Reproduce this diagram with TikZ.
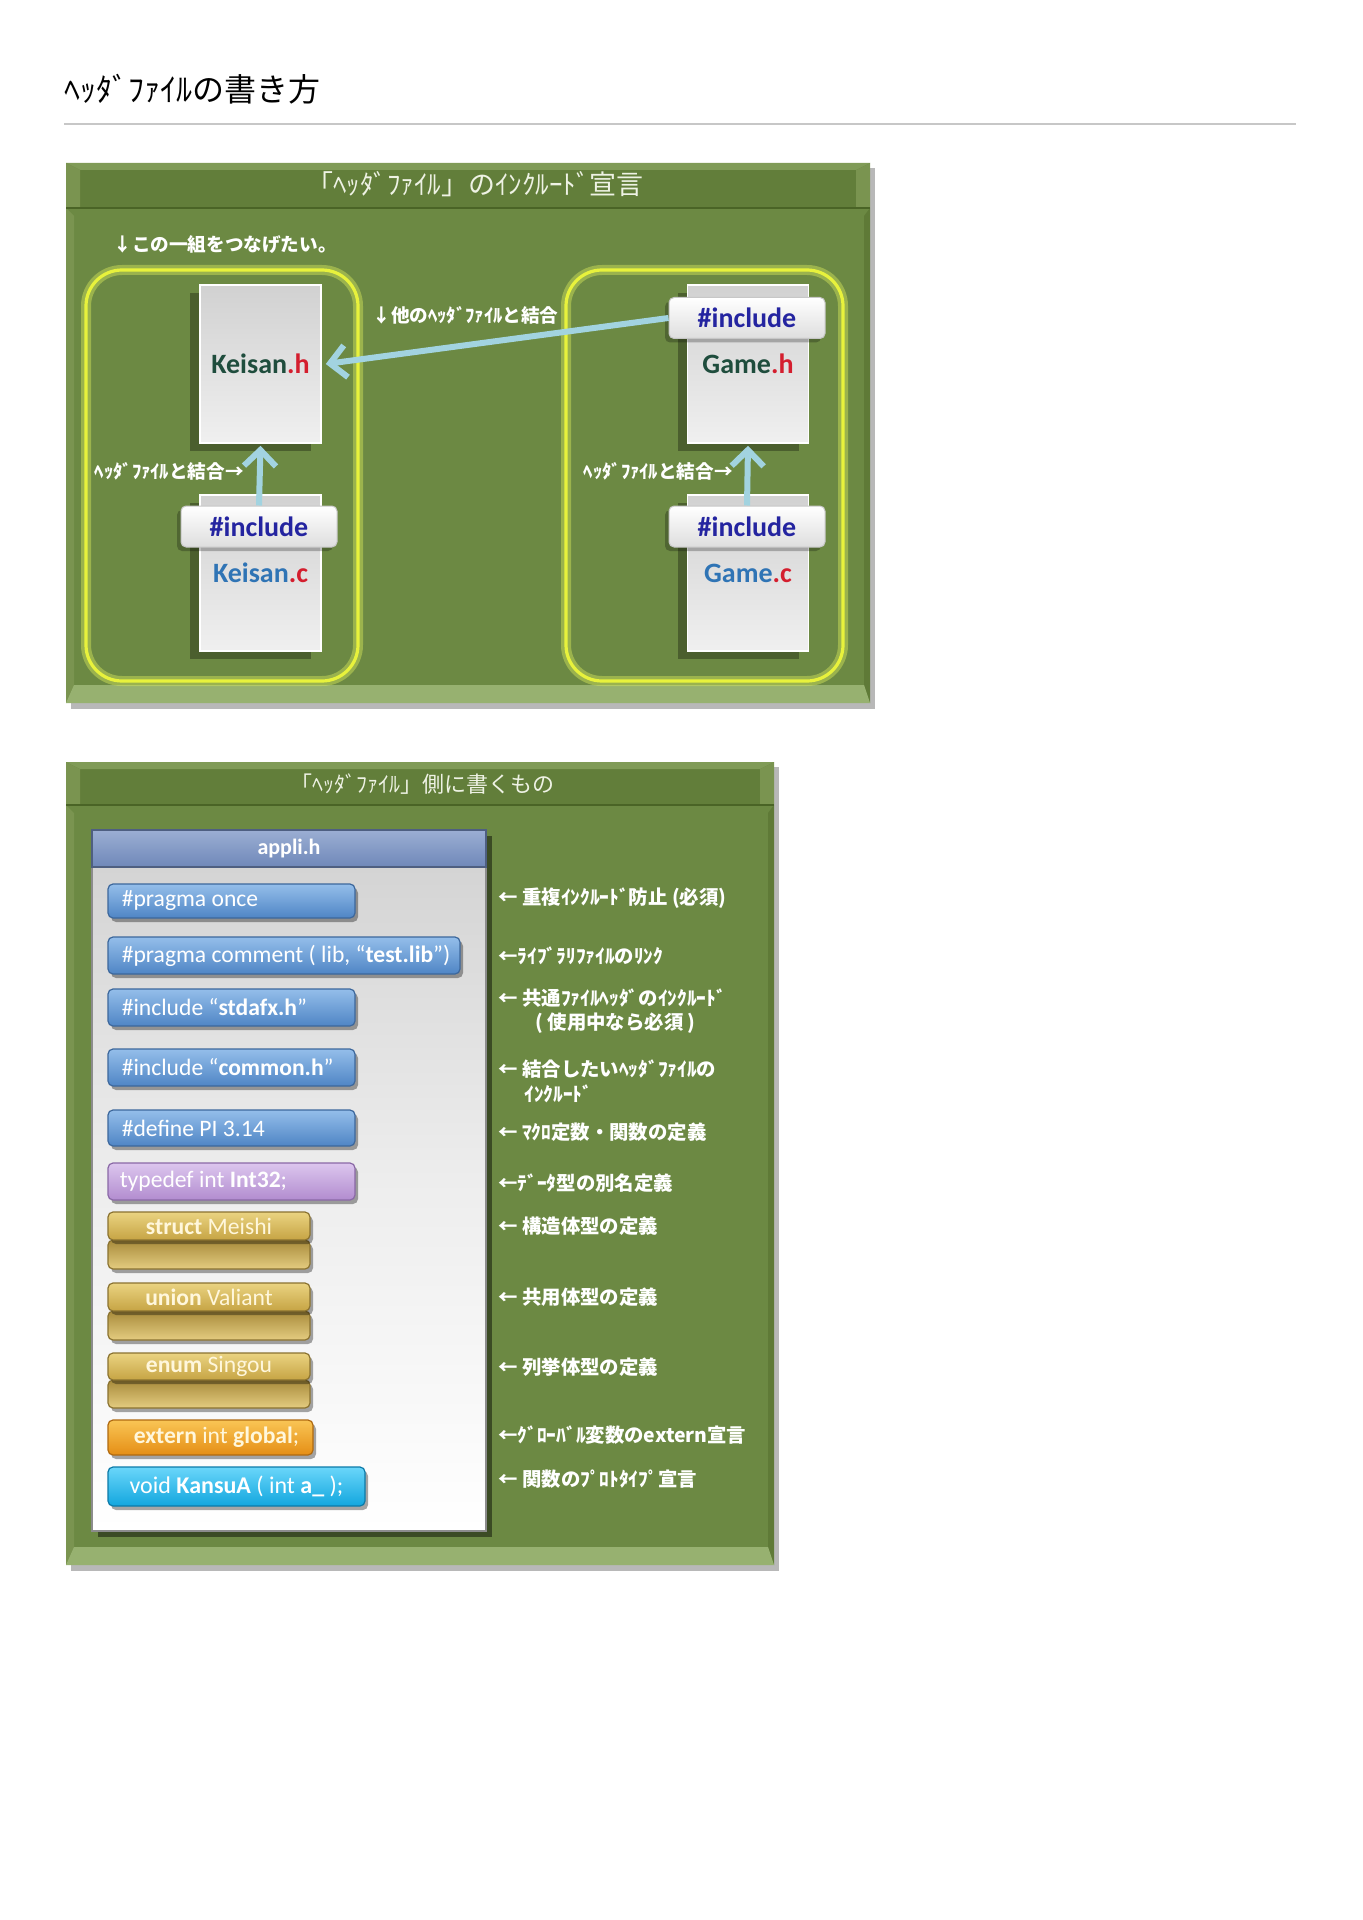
\documentclass[tikz,border=0pt]{standalone}
\usepackage{fontspec}
\setmainfont{Carlito}
\newfontfamily\jp{Noto Sans CJK JP}
\usetikzlibrary{arrows.meta,shadows}
\definecolor{pbody}{HTML}{6C8943}
\definecolor{phead}{HTML}{627E3A}
\definecolor{phl}{HTML}{809B57}
\definecolor{pleft}{HTML}{7A9450}
\definecolor{pright}{HTML}{5F7A37}
\definecolor{pbot}{HTML}{97B170}
\definecolor{pdark}{HTML}{4A6426}
\definecolor{ytop}{HTML}{E8F23C}
\definecolor{yglowc}{HTML}{D6E85A}
\definecolor{arr}{HTML}{A2D3E0}
\definecolor{incblue}{HTML}{2424A0}
\definecolor{kgreen}{HTML}{1F4D3D}
\definecolor{kblue}{HTML}{2F74B5}
\definecolor{hred}{HTML}{D41E2E}
\definecolor{ltext}{HTML}{EEF2E4}
\definecolor{bluet}{HTML}{94BEEA}
\definecolor{blueb}{HTML}{4F85C5}
\definecolor{blued}{HTML}{3C679C}
\definecolor{purt}{HTML}{DCC6EE}
\definecolor{purb}{HTML}{B28CCF}
\definecolor{purd}{HTML}{8A68A6}
\definecolor{goldt}{HTML}{EAD381}
\definecolor{goldb}{HTML}{C6A444}
\definecolor{goldd}{HTML}{8A7230}
\definecolor{gold2t}{HTML}{A88B3B}
\definecolor{gold2b}{HTML}{E4CC80}
\definecolor{orat}{HTML}{F9C555}
\definecolor{orab}{HTML}{E58E15}
\definecolor{orad}{HTML}{B06A10}
\definecolor{cyat}{HTML}{6AD6FA}
\definecolor{cyab}{HTML}{12A6DE}
\definecolor{cyad}{HTML}{0C7AA8}
\definecolor{aphead1}{HTML}{9BAED3}
\definecolor{aphead2}{HTML}{6F88B9}
\definecolor{gtext}{HTML}{FFF7DC}

\newcommand\greenpanel[5]{%
  \fill[black,opacity=.28] ({#1+5},{#2+5}) rectangle ({#3+5},{#4+6});
  \fill[pbody] (#1,#2) rectangle (#3,#4);
  \fill[phead] (#1,#2) rectangle (#3,#5);
  \fill[phl] (#1,#2) -- (#3,#2) -- ({#3-14},{#2+7}) -- ({#1+14},{#2+7}) -- cycle;
  \fill[pleft] (#1,#2) -- ({#1+14},{#2+7}) -- ({#1+14},#5) -- (#1,#5) -- cycle;
  \fill[pleft] (#3,#2) -- ({#3-14},{#2+7}) -- ({#3-14},#5) -- (#3,#5) -- cycle;
  \fill[pleft] (#1,#5) -- ({#1+8},{#5+8}) -- ({#1+8},{#4-18}) -- (#1,#4) -- cycle;
  \fill[pright] (#3,#5) -- ({#3-6},{#5+8}) -- ({#3-6},{#4-18}) -- (#3,#4) -- cycle;
  \fill[pbot] (#1,#4) -- ({#1+8},{#4-18}) -- ({#3-6},{#4-18}) -- (#3,#4) -- cycle;
  \draw[pdark,line width=1.2pt] (#1,#5) -- (#3,#5);
}

\begin{document}
\begin{tikzpicture}[x=0.5pt,y=-0.5pt,
  htext/.style={font=\jp\fontsize{13.5}{16}\selectfont, text=ltext, inner sep=0},
  wlab/.style={font=\jp\bfseries\fontsize{9.3}{11}\selectfont, text=white, inner sep=0},
  rlab/.style={font=\jp\bfseries\fontsize{9.7}{11}\selectfont, text=white, inner sep=0, anchor=west},
  ybox/.style={draw=ytop, line width=1.6pt, rounded corners=18pt,
     preaction={draw=yglowc, line width=5pt, opacity=.45}},
  doc/.style={top color=black!18, bottom color=black!6, draw=white, line width=.8pt,
     minimum width=60.5pt, minimum height=79pt, inner sep=0,
     font=\bfseries\fontsize{14}{16}\selectfont,
     drop shadow={shadow xshift=-5pt, shadow yshift=-4pt, opacity=.3, fill=black}},
  inc/.style={rounded corners=2.5pt, top color=white, bottom color=black!13, draw=black!22,
     line width=.5pt, minimum width=78pt, minimum height=20.5pt, inner sep=0,
     text=incblue, font=\bfseries\fontsize{14}{16}\selectfont,
     drop shadow={shadow xshift=-2pt, shadow yshift=-2pt, opacity=.25, fill=black}},
  conn/.style={draw=arr, line width=3pt, -{Straight Barb[length=8pt,width=16pt]}},
  btn/.style n args={3}{draw=#3, line width=.6pt, rounded corners=2.5pt,
     top color=#1, bottom color=#2, inner sep=0,
     drop shadow={shadow xshift=1.5pt, shadow yshift=-2pt, opacity=.35, fill=black}},
  btext/.style={font=\fontsize{11.8}{13}\selectfont, text=white, inner sep=0},
]
\useasboundingbox (0,0) rectangle (1363,1920);
\fill[white] (0,0) rectangle (1363,1920);

% page title
\node[anchor=west, inner sep=0, font=\jp\fontsize{16}{19}\selectfont] (title) at (64,89) {ﾍｯﾀﾞﾌｧｲﾙの書き方};
\draw[black!22, line width=1pt] (64,124) -- (1296,124);

% ===== panel 1 =====
\greenpanel{66}{163}{870}{703}{208}
\node[htext] (p1title) at (475,184) {「ﾍｯﾀﾞﾌｧｲﾙ」のｲﾝｸﾙｰﾄﾞ宣言};
\node[wlab, anchor=west] (pair) at (113,245) {↓この一組をつなげたい。};

\draw[ybox] (86,270) rectangle (358,681);
\draw[ybox] (566,270) rectangle (843,681);

\node[doc] (kh) at (260.5,364) {\raisebox{-2pt}{\textcolor{kgreen}{Keisan}\textcolor{hred}{.h}}};
\node[doc, minimum height=78pt] (kc) at (260.5,573) {\raisebox{-10pt}{\textcolor{kblue}{Keisan}\textcolor{hred}{.c}}};
\node[doc] (gh) at (748,364) {\raisebox{-2pt}{\textcolor{kgreen}{Game}\textcolor{hred}{.h}}};
\node[doc, minimum height=78pt] (gc) at (748,573) {\raisebox{-10pt}{\textcolor{kblue}{Game}\textcolor{hred}{.c}}};

\node[inc] (kcinc) at (259,526.5) {\#include};
\node[inc] (ghinc) at (747,318) {\#include};
\node[inc] (gcinc) at (747,526.5) {\#include};

\draw[conn] (kcinc.north) -- ([yshift=-1pt]kh.south);
\draw[conn] (gcinc.north) -- ([yshift=-1pt]gh.south);
\draw[conn] (ghinc.west) -- ([xshift=2pt]kh.east);

\node[wlab, anchor=east] (lk) at (244,471) {ﾍｯﾀﾞﾌｧｲﾙと結合→};
\node[wlab, anchor=east] (lg) at (733,471) {ﾍｯﾀﾞﾌｧｲﾙと結合→};
\node[wlab, anchor=west] (lo) at (372,315) {↓他のﾍｯﾀﾞﾌｧｲﾙと結合};

% ===== panel 2 =====
\greenpanel{66}{762}{774}{1565}{805}
\node[htext, font=\jp\fontsize{11}{13}\selectfont] (p2title) at (422,784) {「ﾍｯﾀﾞﾌｧｲﾙ」側に書くもの};

\node[top color=black!18, bottom color=white, middle color=black!7, draw=black!45, line width=.8pt,
      minimum width=197pt, minimum height=350.5pt, inner sep=0,
      drop shadow={shadow xshift=3pt, shadow yshift=-3pt, opacity=.45, fill=black}] (appli) at (289,1180.5) {};
\node[top color=aphead1, bottom color=aphead2, draw=aphead2!70!black, line width=.6pt,
      minimum width=197pt, minimum height=18.5pt, inner sep=0, text=white,
      font=\bfseries\fontsize{11}{13}\selectfont] (applih) at (289,848.5) {appli.h};

% buttons
\node[btn={bluet}{blueb}{blued}, minimum width=123.5pt, minimum height=17pt] (b1) at (231.5,901) {};
\node[btext, anchor=west] (t1) at ([xshift=7pt]b1.west) {\#pragma once};
\node[btn={bluet}{blueb}{blued}, minimum width=176pt, minimum height=18.5pt] (b2) at (284,955.5) {};
\node[btext, anchor=west] (t2) at ([xshift=7pt]b2.west) {\#pragma comment ( lib, “\textbf{test.lib}”)};
\node[btn={bluet}{blueb}{blued}, minimum width=123.5pt, minimum height=18.5pt] (b3) at (231.5,1007.5) {};
\node[btext, anchor=west] (t3) at ([xshift=7pt]b3.west) {\#include “\textbf{stdafx.h}”};
\node[btn={bluet}{blueb}{blued}, minimum width=123.5pt, minimum height=18.5pt] (b4) at (231.5,1067.5) {};
\node[btext, anchor=west] (t4) at ([xshift=7pt]b4.west) {\#include “\textbf{common.h}”};
\node[btn={bluet}{blueb}{blued}, minimum width=123.5pt, minimum height=18pt] (b5) at (231.5,1128) {};
\node[btext, anchor=west] (t5) at ([xshift=7pt]b5.west) {\#define PI 3.14};
\node[btn={purt}{purb}{purd}, minimum width=123.5pt, minimum height=18.5pt] (b6) at (231.5,1181.5) {};
\node[btext, anchor=west] (t6) at ([xshift=6pt]b6.west) {typedef int \textbf{Int32};};

\node[btn={gold2t}{gold2b}{goldd}, minimum width=101pt, minimum height=14.5pt] (g1b) at (209,1254.5) {};
\node[btn={goldt}{goldb}{goldd}, minimum width=101pt, minimum height=14pt] (g1t) at (209,1226) {};
\node[btext, text=gtext] (tg1) at (g1t) {\textbf{struct} Meishi};
\node[btn={gold2t}{gold2b}{goldd}, minimum width=101pt, minimum height=14.5pt] (g2b) at (209,1325.5) {};
\node[btn={goldt}{goldb}{goldd}, minimum width=101pt, minimum height=14pt] (g2t) at (209,1297) {};
\node[btext, text=gtext] (tg2) at (g2t) {\textbf{union} Valiant};
\node[btn={gold2t}{gold2b}{goldd}, minimum width=101pt, minimum height=14pt] (g3b) at (209,1394) {};
\node[btn={goldt}{goldb}{goldd}, minimum width=101pt, minimum height=13.5pt] (g3t) at (209,1366.5) {};
\node[btext, text=gtext] (tg3) at (g3t) {\textbf{enum} Singou};

\node[btn={orat}{orab}{orad}, minimum width=102.5pt, minimum height=17.5pt] (b10) at (210.5,1437.5) {};
\node[btext, text=gtext] (t10) at ([xshift=3pt]b10.center) {\textbf{extern} int \textbf{global};};
\node[btn={cyat}{cyab}{cyad}, minimum width=128.5pt, minimum height=19.5pt] (b11) at (236.5,1486.5) {};
\node[btext, font=\fontsize{12}{14}\selectfont] (t11) at (b11) {void \textbf{KansuA} ( int \textbf{a\_} );};

% right labels
\node[rlab] (r1) at (498,898) {← 重複ｲﾝｸﾙｰﾄﾞ防止 (必須)};
\node[rlab] (r2) at (498,956) {←ﾗｲﾌﾞﾗﾘﾌｧｲﾙのﾘﾝｸ};
\node[rlab] (r3) at (498,998) {← 共通ﾌｧｲﾙﾍｯﾀﾞのｲﾝｸﾙｰﾄﾞ};
\node[rlab] (r3b) at (535,1023) {( 使用中なら必須 )};
\node[rlab] (r4) at (498,1069) {← 結合したいﾍｯﾀﾞﾌｧｲﾙの};
\node[rlab] (r4b) at (524,1094) {ｲﾝｸﾙｰﾄﾞ};
\node[rlab] (r5) at (498,1132) {← ﾏｸﾛ定数・関数の定義};
\node[rlab] (r6) at (498,1183) {←ﾃﾞｰﾀ型の別名定義};
\node[rlab] (r7) at (498,1226) {← 構造体型の定義};
\node[rlab] (r8) at (498,1297) {← 共用体型の定義};
\node[rlab] (r9) at (498,1367) {← 列挙体型の定義};
\node[rlab] (r10) at (498,1435) {←ｸﾞﾛｰﾊﾞﾙ変数のextern宣言};
\node[rlab] (r11) at (498,1479) {← 関数のﾌﾟﾛﾄﾀｲﾌﾟ宣言};
\end{tikzpicture}
\end{document}
